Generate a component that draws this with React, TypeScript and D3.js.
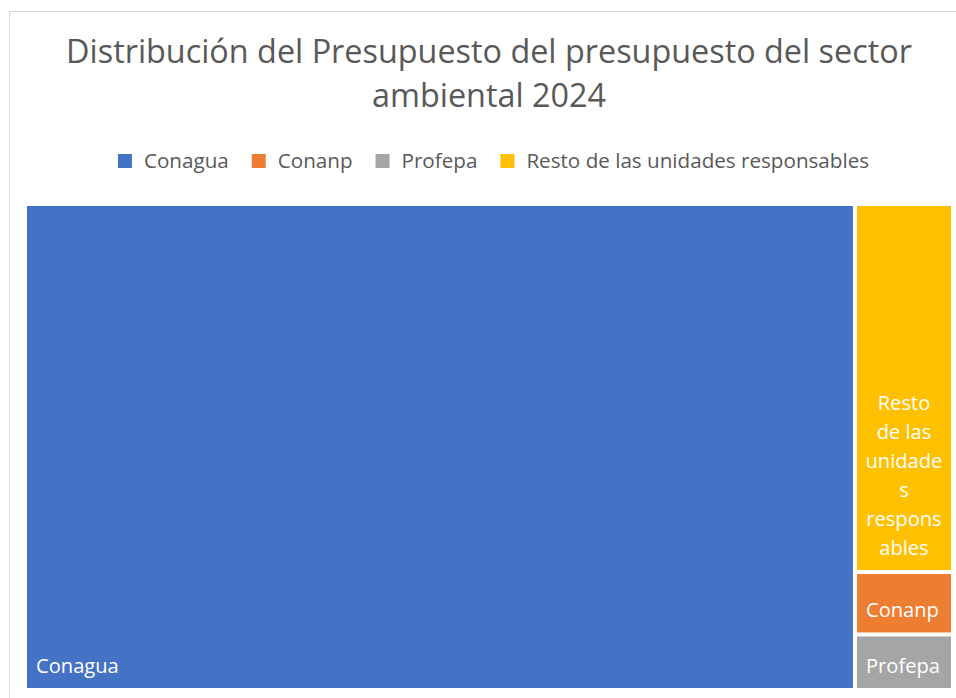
import React, { useEffect, useRef } from "react";
import * as d3 from "d3";

// Estimated budget values (millions of pesos) read from the treemap areas
const categories = ["Conagua", "Conanp", "Profepa", "Resto de las unidades responsables"];
const values = [62938, 955, 850, 5630];
const colors = ["#4472C4", "#ED7D31", "#A5A5A5", "#FFC000"];
const titleLines = ["Distribución del Presupuesto del presupuesto del sector", "ambiental 2024"];
// wrapped label lines as shown in the chart
const labelLines: Record<string, string[]> = {
  Conagua: ["Conagua"],
  Conanp: ["Conanp"],
  Profepa: ["Profepa"],
  "Resto de las unidades responsables": ["Resto", "de las", "unidade", "s", "respons", "ables"],
};

export default function App() {
  const ref = useRef<SVGSVGElement>(null);
  useEffect(() => {
    const svg = d3.select(ref.current as SVGSVGElement);
    svg.selectAll("*").remove();
    const font = "'Open Sans', sans-serif";
    const measure = (text: string, size: number) => {
      const t = svg.append("text").attr("font-family", font).attr("font-size", size).text(text);
      const w = (t.node() as SVGTextElement).getComputedTextLength();
      t.remove();
      return w;
    };
    const fit = (text: string, target: number) => (20 * target) / measure(text, 20);

    // chart frame
    svg.append("rect").attr("x", 9.5).attr("y", 11.5).attr("width", 1000).attr("height", 1000)
      .attr("fill", "#fff").attr("stroke", "#d9d9d9");

    // title
    const titleSize = fit(titleLines[0], 846);
    const titleY = [62.7, 107.3];
    titleLines.forEach((l, i) => {
      svg.append("text").attr("x", 489).attr("y", titleY[i]).attr("text-anchor", "middle")
        .attr("font-family", font).attr("font-size", titleSize).attr("fill", "#595959").text(l);
    });

    // legend
    const legendSize = fit(categories[3], 343);
    const sq = 14, gapSqText = 12, gapItems = 23;
    const widths = categories.map((c) => measure(c, legendSize));
    const total = widths.reduce((a, w) => a + sq + gapSqText + w, 0) + gapItems * (categories.length - 1);
    let lx = 493.5 - total / 2;
    const legendY = 161;
    categories.forEach((c, i) => {
      svg.append("rect").attr("x", lx).attr("y", legendY - sq / 2).attr("width", sq).attr("height", sq).attr("fill", colors[i]);
      svg.append("text").attr("x", lx + sq + gapSqText).attr("y", legendY).attr("dy", "0.35em")
        .attr("font-family", font).attr("font-size", legendSize).attr("fill", "#595959").text(c);
      lx += sq + gapSqText + widths[i] + gapItems;
    });

    // treemap
    type Leaf = { name: string; value: number; color: string };
    const data = { name: "root", children: categories.map((c, i) => ({ name: c, value: values[i], color: colors[i] })) };
    const root = d3.hierarchy<any>(data).sum((d: any) => d.value ?? 0).sort((a, b) => (b.value ?? 0) - (a.value ?? 0));
    d3.treemap<any>().size([924, 482]).paddingInner(4).tile(d3.treemapSquarify.ratio(1))(root);
    const g = svg.append("g").attr("transform", "translate(27,206)");
    const labelSize = fit("Conanp", 73);
    (root.leaves() as d3.HierarchyRectangularNode<Leaf>[]).forEach((n) => {
      const d = n.data as Leaf;
      g.append("rect").attr("x", n.x0).attr("y", n.y0).attr("width", n.x1 - n.x0).attr("height", n.y1 - n.y0)
        .attr("fill", d.color);
      const lines = labelLines[d.name] || [d.name];
      const wrapped = lines.length > 1;
      const lh = 29;
      lines.forEach((l, i) => {
        g.append("text")
          .attr("x", wrapped ? (n.x0 + n.x1) / 2 : n.x0 + 9)
          .attr("y", n.y1 - 15 - (lines.length - 1 - i) * lh)
          .attr("text-anchor", wrapped ? "middle" : "start")
          .attr("font-family", font).attr("font-size", labelSize).attr("fill", "#fff").text(l);
      });
    });
  }, []);
  return (
    <svg ref={ref} width={956} height={698}
      style={{ position: "absolute", left: 0, top: 0, display: "block", overflow: "hidden" }} />
  );
}
